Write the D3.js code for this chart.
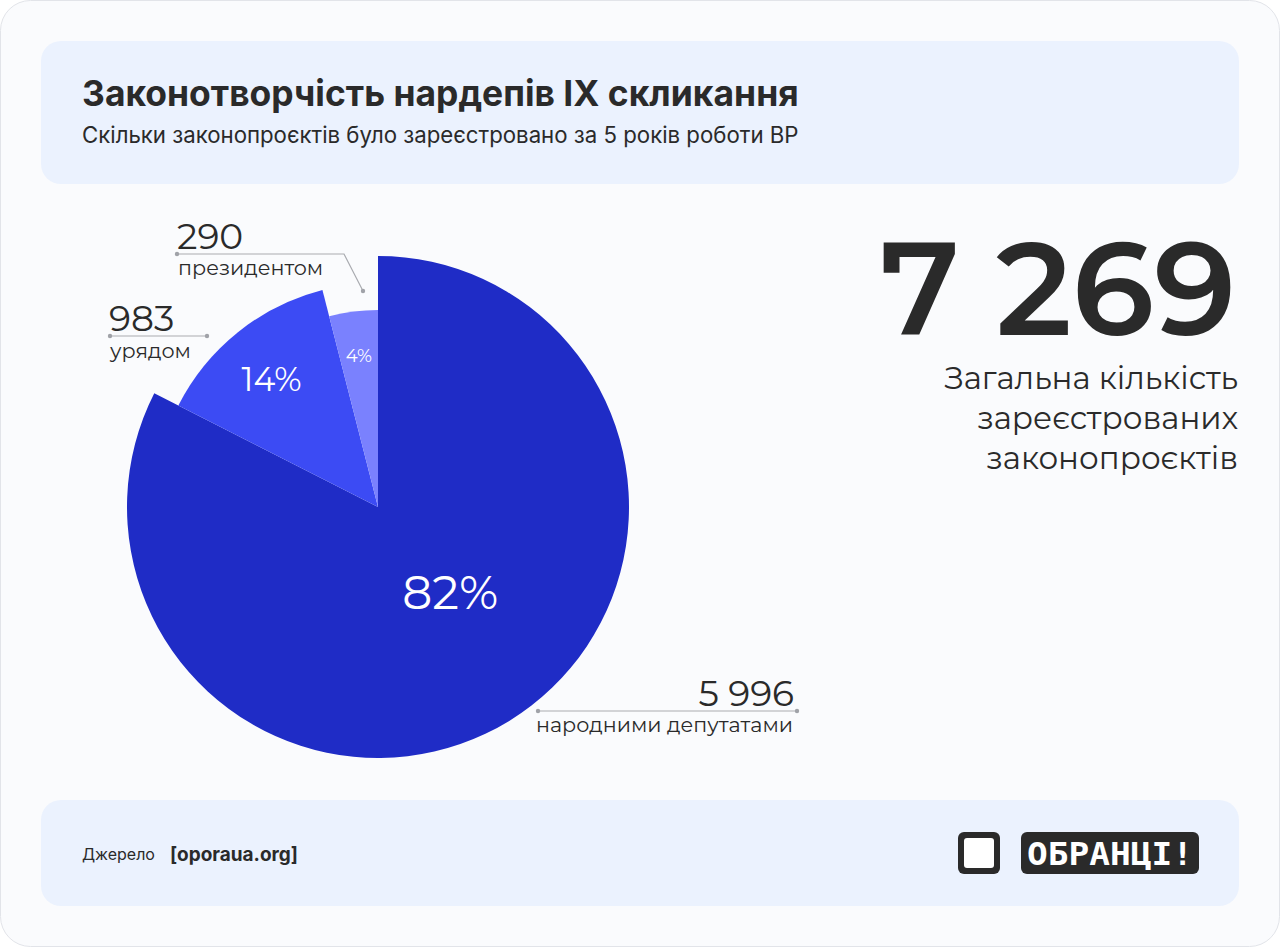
<!DOCTYPE html>
<html>
<head>
<meta charset="utf-8">
<script src="https://cdn.jsdelivr.net/npm/d3@7"></script>
<style>
  html, body { margin: 0; padding: 0; background: #ffffff; }
  svg { display: block; }
</style>
</head>
<body>
<svg id="chart" width="1280" height="947"></svg>
<script>
// data
const categories = ['народними депутатами', 'урядом', 'президентом'];
const counts = [5996, 983, 290];
const shares = ['82%', '14%', '4%'];
const totalLabel = '7 269';
const totalCaption = ['Загальна кількість', 'зареєстрованих', 'законопроєктів'];
const titleText = 'Законотворчість нардепів IX скликання';
const subtitleText = 'Скільки законопроєктів було зареєстровано за 5 років роботи ВР';

// styles
const sliceColors = ['#1f2cc6', '#3c4bf4', '#7a81fe'];
const sliceRadius = [251, 224, 197];
const labelRadius = [100, 167, 153];
const labelShift = [[20, 0], [-2, 2], [0, 0]];
const labelSize = [47, 33, 18];
const ink = '#2a2a2a';
const numFont = 'Montserrat, "DejaVu Sans", sans-serif';
const uiFont = 'Inter, "Noto Sans", sans-serif';

const svg = d3.select('#chart');

// stretch a text's font size so it spans the given width
function fitWidth(sel, width) {
  const fs = +sel.attr('font-size');
  const w = sel.node().getComputedTextLength();
  sel.attr('font-size', fs * width / w);
  return sel;
}

// card + panels
svg.append('rect')
  .attr('x', 0.5).attr('y', 0.5)
  .attr('width', 1279).attr('height', 946)
  .attr('rx', 30)
  .attr('fill', '#fafbfd')
  .attr('stroke', '#e2e4e9');

svg.append('rect')
  .attr('x', 41).attr('y', 41)
  .attr('width', 1198).attr('height', 143)
  .attr('rx', 20)
  .attr('fill', '#ebf2fe');

svg.append('rect')
  .attr('x', 41).attr('y', 800)
  .attr('width', 1198).attr('height', 106)
  .attr('rx', 20)
  .attr('fill', '#ebf2fe');

// title
fitWidth(svg.append('text')
  .attr('x', 82).attr('y', 106)
  .attr('font-family', uiFont)
  .attr('font-weight', 700)
  .attr('font-size', 32)
  .attr('fill', ink)
  .text(titleText), 717);

fitWidth(svg.append('text')
  .attr('x', 82).attr('y', 143)
  .attr('font-family', uiFont)
  .attr('font-size', 20)
  .attr('fill', ink)
  .text(subtitleText), 717);

// pie
const cx = 378, cy = 507;
const pie = d3.pie().sort(null).value(d => d.value);
const arcs = pie(counts.map((v, i) => ({ value: v, i })));

const pieGroup = svg.append('g').attr('transform', `translate(${cx},${cy})`);

pieGroup.selectAll('path')
  .data(arcs)
  .join('path')
  .attr('d', d => d3.arc().innerRadius(0).outerRadius(sliceRadius[d.data.i])(d))
  .attr('fill', d => sliceColors[d.data.i]);

pieGroup.selectAll('text.share')
  .data(arcs)
  .join('text')
  .attr('class', 'share')
  .attr('transform', d => {
    const r = labelRadius[d.data.i];
    const c = d3.arc().innerRadius(r).outerRadius(r).centroid(d);
    const s = labelShift[d.data.i];
    return `translate(${c[0] + s[0]},${c[1] + s[1]})`;
  })
  .attr('text-anchor', 'middle')
  .attr('dy', '0.36em')
  .attr('font-family', numFont)
  .attr('font-size', d => labelSize[d.data.i])
  .attr('fill', '#ffffff')
  .text(d => shares[d.data.i]);

// callouts
const fmt = v => d3.format(',')(v).replace(/,/g, ' ');
const callouts = [
  { i: 0, anchor: 'end', x: 794, num: 706, cap: 732, line: [[538, 711], [797, 711]] },
  { i: 1, anchor: 'start', x: 109, num: 331, cap: 358, line: [[110, 336], [207, 336]] },
  { i: 2, anchor: 'start', x: 177, num: 249, cap: 275, line: [[177, 254], [344, 254], [363, 291]] }
];

callouts.forEach(c => {
  const g = svg.append('g');
  g.append('path')
    .attr('d', d3.line()(c.line))
    .attr('fill', 'none')
    .attr('stroke', '#a9abb0')
    .attr('stroke-width', 1.2);
  [c.line[0], c.line[c.line.length - 1]].forEach(p => {
    g.append('circle')
      .attr('cx', p[0]).attr('cy', p[1])
      .attr('r', 2.2)
      .attr('fill', '#a0a2a8');
  });
  g.append('text')
    .attr('x', c.x).attr('y', c.num)
    .attr('text-anchor', c.anchor)
    .attr('font-family', numFont)
    .attr('font-size', 36)
    .attr('fill', ink)
    .text(fmt(counts[c.i]));
  g.append('text')
    .attr('x', c.x + (c.anchor === 'end' ? -1 : 1)).attr('y', c.cap)
    .attr('text-anchor', c.anchor)
    .attr('font-family', numFont)
    .attr('font-size', 20.7)
    .attr('fill', ink)
    .text(categories[c.i]);
});

// big total
fitWidth(svg.append('text')
  .attr('x', 1236).attr('y', 335)
  .attr('text-anchor', 'end')
  .attr('font-family', numFont)
  .attr('font-weight', 600)
  .attr('font-size', 140)
  .attr('fill', ink)
  .text(totalLabel), 356);

svg.append('g').selectAll('text')
  .data(totalCaption)
  .join('text')
  .attr('x', 1238)
  .attr('y', (d, i) => 389 + i * 40)
  .attr('text-anchor', 'end')
  .attr('font-family', numFont)
  .attr('font-size', 31)
  .attr('fill', ink)
  .text(d => d);

// footer
svg.append('text')
  .attr('x', 82).attr('y', 860)
  .attr('font-family', uiFont)
  .attr('font-size', 16)
  .attr('fill', ink)
  .text('Джерело');

fitWidth(svg.append('text')
  .attr('x', 170).attr('y', 861)
  .attr('font-family', uiFont)
  .attr('font-weight', 700)
  .attr('font-size', 19)
  .attr('fill', ink)
  .text('[oporaua.org]'), 128);

// logo
const logo = svg.append('g');
logo.append('rect')
  .attr('x', 958).attr('y', 832).attr('width', 42).attr('height', 42)
  .attr('rx', 6).attr('fill', ink);
logo.append('rect')
  .attr('x', 964).attr('y', 838).attr('width', 30).attr('height', 30)
  .attr('rx', 3).attr('fill', '#ffffff');
logo.append('rect')
  .attr('x', 1021).attr('y', 832).attr('width', 178).attr('height', 42)
  .attr('rx', 6).attr('fill', ink);
logo.append('text')
  .attr('x', 1110).attr('y', 865)
  .attr('text-anchor', 'middle')
  .attr('font-family', '"DejaVu Sans Mono", monospace')
  .attr('font-weight', 700)
  .attr('font-size', 32)
  .attr('textLength', 166)
  .attr('lengthAdjust', 'spacingAndGlyphs')
  .attr('fill', '#ffffff')
  .text('ОБРАНЦІ!');
</script>
</body>
</html>
